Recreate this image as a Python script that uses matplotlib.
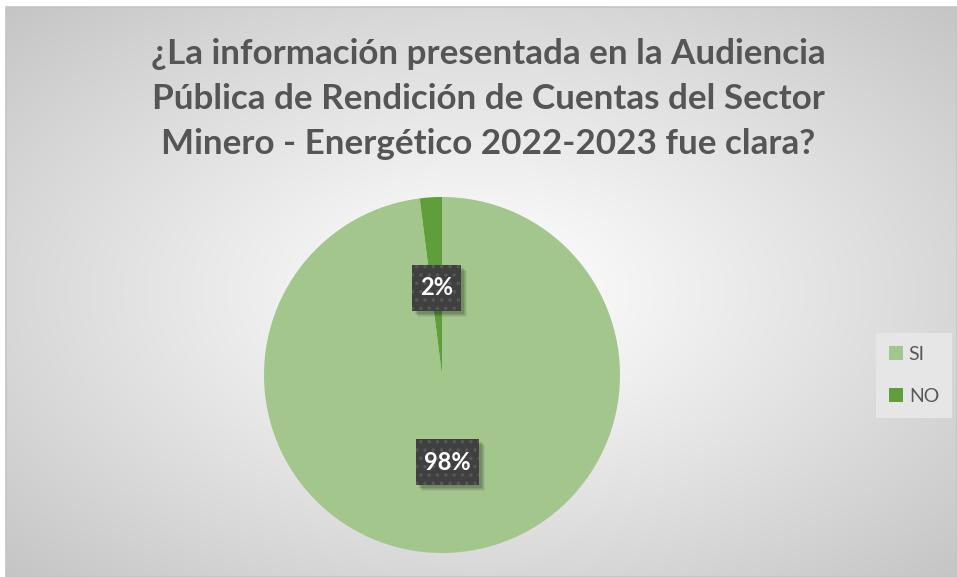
import numpy as np
import matplotlib
matplotlib.use("Agg")
import matplotlib.pyplot as plt
import matplotlib.transforms as mtransforms
from matplotlib.path import Path

# ---- data ----
categories = ["SI", "NO"]
values = [98, 2]
title_lines = ["¿La información presentada en la Audiencia",
               "Pública de Rendición de Cuentas del Sector",
               "Minero - Energético 2022-2023 fue clara?"]
colors = ["#A3C68D", "#5F9E3A"]

W, H = 957, 577
DPI = 100
plt.rcParams['font.family'] = ['Lato', 'DejaVu Sans']
plt.rcParams['hatch.color'] = '#575757'
plt.rcParams['hatch.linewidth'] = 1.3

fig = plt.figure(figsize=(W / DPI, H / DPI), dpi=DPI)
fig.patch.set_facecolor('white')

# background chart area with radial gradient
x0, y0top = 6, 7
bg = fig.add_axes([x0 / W, 0, (W - x0) / W, (H - y0top) / H])
bg.set_axis_off()
nx, ny = 400, 240
xx, yy = np.meshgrid(np.linspace(-1, 1, nx), np.linspace(-1, 1, ny))
d = np.sqrt(xx ** 2 + yy ** 2) / np.sqrt(2)
g = (255 - (255 - 197) * d ** 1.1) / 255.0
img = np.dstack([g, g, g])
bg.imshow(img, extent=[0, 1, 0, 1], aspect='auto', interpolation='bilinear')
bg.set_xlim(0, 1)
bg.set_ylim(0, 1)
bg.add_patch(plt.Rectangle((0, 0), 1, 1, fill=False, edgecolor='#c4c4c4',
                           lw=1.2, transform=bg.transAxes, clip_on=False))

# title
cx_title = 488 / W
for line, base in zip(title_lines, [64, 109, 154]):
    fig.text(cx_title, 1 - base / H, line, ha='center', va='baseline',
             fontsize=25.2, fontweight='bold', color='#555555')

# pie
pcx, pcy, r = 442, 375, 178
ax = fig.add_axes([(pcx - r) / W, (H - pcy - r) / H, 2 * r / W, 2 * r / H])
ax.set_axis_off()
wedges, texts, autotexts = ax.pie(
    values, colors=colors, startangle=90, counterclock=False,
    autopct=lambda p: f"{p:.0f}%", pctdistance=0.49, radius=1,
    wedgeprops=dict(linewidth=0),
    textprops=dict(color='white', fontsize=17, fontweight='bold'))
ax.set_xlim(-1, 1)
ax.set_ylim(-1, 1)


def label_box(x0, y0, width, height, mutation_size):
    px = 0.34 * mutation_size
    py = 0.50 * mutation_size
    a, b = x0 - px, y0 - py
    c, e = x0 + width + px, y0 + height + py
    return Path([(a, b), (c, b), (c, e), (a, e), (a, b)], closed=True)


for t in autotexts:
    t.set_zorder(6)
    t.set_bbox(dict(boxstyle=label_box, facecolor='#404040',
                    edgecolor='#575757', linewidth=0, hatch='..'))

# legend
leg = fig.legend(wedges, categories, loc='center',
                 bbox_to_anchor=(914 / W, 1 - 375.5 / H),
                 fontsize=14, frameon=True, fancybox=False,
                 facecolor='#e6e6e6', edgecolor='none', framealpha=1,
                 handlelength=0.72, handleheight=0.72, handletextpad=0.3,
                 labelspacing=1.27, borderpad=0.67, borderaxespad=0)
for txt in leg.get_texts():
    txt.set_color('#595959')
for h in leg.legend_handles:
    h.set_edgecolor('none')

# soft drop shadows behind the data label boxes (pixel coordinates)
fig.canvas.draw()
renderer = fig.canvas.get_renderer()
ident = mtransforms.IdentityTransform()
for t in autotexts:
    bb = t.get_bbox_patch().get_window_extent(renderer)
    for k, a in [(6, 0.05), (5, 0.07), (4, 0.09), (3, 0.10)]:
        sh = plt.Rectangle((bb.x0 + k, bb.y0 - k), bb.width, bb.height,
                           facecolor='black', alpha=a, edgecolor='none',
                           zorder=4, transform=ident)
        ax.add_artist(sh)

fig.savefig('out.png', dpi=DPI, facecolor='white')
